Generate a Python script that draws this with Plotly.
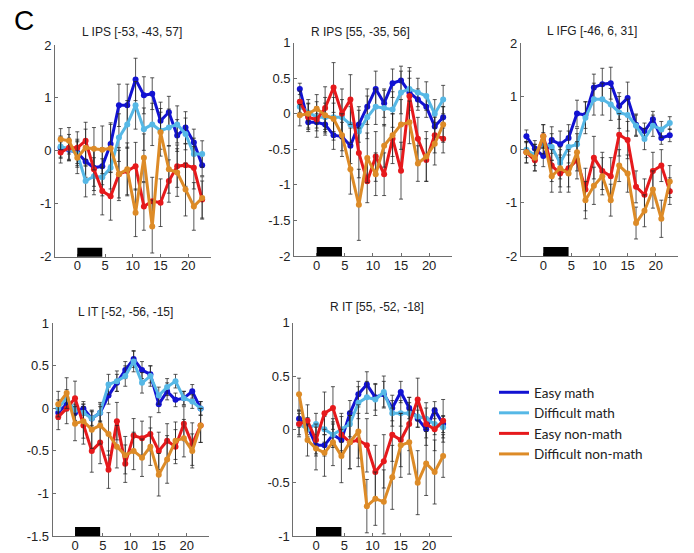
import plotly.graph_objects as go

W, H = 694, 553

# ---------------- data ----------------
time_s = [-3, -1.5, 0, 1.5, 3, 4.5, 6, 7.5, 9, 10.5, 12, 13.5, 15, 16.5, 18, 19.5, 21, 22.5]
stim_block = [0, 4.5]
x_ticks = [0, 5, 10, 15, 20]

condition_names = ["Easy math", "Difficult math", "Easy non-math", "Difficult non-math"]
condition_colors = ["#1212d2", "#56b8e6", "#e6191c", "#dd8b27"]

# L IPS [-53, -43, 57]
lips_easy_math = [0.06, 0.02, -0.03, -0.2, -0.32, -0.29, 0.13, 0.86, 0.86, 1.35, 1.05, 1.08, 0.57, 0.73, 0.29, 0.44, 0.16, -0.27]
lips_diff_math = [0.08, 0.04, -0.06, -0.57, -0.48, -0.5, -0.32, 0.25, 0.5, 0.86, 0.41, 0.5, 0.38, 0.44, 0.5, 0.32, -0.06, -0.06]
lips_easy_non = [-0.03, 0.06, 0.06, 0.19, -0.35, -0.76, -0.86, -0.44, -0.38, -0.29, -1.05, -0.95, -0.98, -0.57, -0.29, -0.27, -0.32, -0.92]
lips_diff_non = [0.22, 0.19, -0.13, 0.06, 0.04, 0.02, 0.05, -0.44, -0.35, -1.17, -0.13, -1.43, 0.35, -0.35, -0.41, -0.73, -1.05, -0.89]
lips_err_easy_math = [0.2, 0.2, 0.25, 0.3, 0.35, 0.35, 0.4, 0.4, 0.4, 0.4, 0.35, 0.3, 0.35, 0.3, 0.3, 0.3, 0.25, 0.2]
lips_err_diff_math = [0.2, 0.2, 0.25, 0.3, 0.35, 0.35, 0.4, 0.45, 0.45, 0.45, 0.4, 0.4, 0.35, 0.35, 0.35, 0.3, 0.3, 0.25]
lips_err_easy_non = [0.2, 0.25, 0.3, 0.35, 0.4, 0.45, 0.45, 0.45, 0.45, 0.45, 0.45, 0.45, 0.45, 0.4, 0.4, 0.4, 0.4, 0.35]
lips_err_diff_non = [0.2, 0.25, 0.3, 0.35, 0.4, 0.45, 0.45, 0.5, 0.5, 0.45, 0.45, 0.5, 0.45, 0.45, 0.45, 0.5, 0.45, 0.4]

# R IPS [55, -35, 56]
rips_easy_math = [0.35, -0.12, -0.12, -0.15, -0.3, -0.32, -0.45, -0.15, 0.1, 0.35, 0.15, 0.43, 0.47, 0.3, 0.2, 0.1, -0.18, -0.05]
rips_diff_math = [0.1, 0.02, -0.05, -0.05, -0.05, -0.05, -0.15, -0.25, -0.05, 0.1, 0.08, 0.06, 0.3, 0.35, 0.3, 0.25, 0.0, 0.2]
rips_easy_non = [0.17, -0.05, -0.08, 0.08, 0.37, 0.0, 0.2, -0.55, -0.95, -0.6, -0.85, -0.35, -0.8, 0.25, -0.35, -0.65, -0.3, -0.35]
rips_diff_non = [-0.02, 0.0, 0.07, -0.02, -0.07, -0.3, -0.78, -1.28, -0.62, -0.85, -0.45, -0.3, -0.15, -0.12, -0.7, -0.6, -0.42, -0.15]
rips_err_easy_math = [0.08, 0.1, 0.12, 0.15, 0.2, 0.2, 0.25, 0.25, 0.25, 0.25, 0.2, 0.2, 0.2, 0.2, 0.15, 0.15, 0.15, 0.15]
rips_err_diff_math = [0.1, 0.12, 0.15, 0.2, 0.2, 0.25, 0.25, 0.3, 0.3, 0.25, 0.25, 0.25, 0.3, 0.3, 0.2, 0.2, 0.2, 0.2]
rips_err_easy_non = [0.15, 0.2, 0.25, 0.3, 0.35, 0.35, 0.35, 0.35, 0.3, 0.35, 0.3, 0.35, 0.4, 0.35, 0.3, 0.3, 0.25, 0.2]
rips_err_diff_non = [0.15, 0.2, 0.2, 0.25, 0.3, 0.3, 0.35, 0.5, 0.35, 0.3, 0.3, 0.3, 0.35, 0.3, 0.25, 0.35, 0.3, 0.25]

# L IFG [-46, 6, 31]
lifg_easy_math = [0.25, 0.02, -0.12, 0.18, 0.1, 0.22, 0.68, 0.65, 1.17, 1.23, 1.25, 0.82, 0.97, 0.47, 0.35, 0.57, 0.22, 0.27]
lifg_diff_math = [0.0, -0.1, 0.12, 0.05, -0.25, 0.05, 0.1, 0.6, 0.95, 0.95, 0.85, 0.7, 0.65, 0.45, 0.2, 0.45, 0.38, 0.5]
lifg_easy_non = [-0.05, -0.2, 0.25, -0.3, -0.45, -0.35, -0.2, -0.75, -0.15, -0.4, -0.5, 0.28, 0.18, -0.7, -0.85, -0.4, -0.3, -0.78]
lifg_diff_non = [-0.05, -0.15, 0.25, -0.5, -0.35, -0.45, -0.05, -0.95, -0.68, -0.5, -0.95, -0.3, -0.45, -1.38, -1.15, -0.75, -1.3, -0.6]
lifg_err_easy_math = [0.12, 0.15, 0.2, 0.25, 0.25, 0.25, 0.25, 0.25, 0.25, 0.3, 0.3, 0.25, 0.3, 0.2, 0.15, 0.15, 0.12, 0.12]
lifg_err_diff_math = [0.15, 0.2, 0.2, 0.25, 0.3, 0.3, 0.3, 0.3, 0.3, 0.3, 0.3, 0.3, 0.3, 0.2, 0.2, 0.2, 0.15, 0.12]
lifg_err_easy_non = [0.2, 0.2, 0.22, 0.3, 0.35, 0.35, 0.35, 0.4, 0.4, 0.35, 0.35, 0.4, 0.35, 0.3, 0.3, 0.35, 0.3, 0.25]
lifg_err_diff_non = [0.2, 0.25, 0.22, 0.3, 0.35, 0.35, 0.35, 0.35, 0.35, 0.35, 0.3, 0.3, 0.35, 0.3, 0.3, 0.35, 0.35, 0.3]

# L IT [-52, -56, -15]
lit_easy_math = [-0.05, 0.05, -0.05, 0.0, -0.12, -0.05, 0.15, 0.3, 0.45, 0.58, 0.45, 0.4, 0.05, 0.2, 0.1, 0.12, 0.2, 0.0]
lit_diff_math = [0.0, 0.12, -0.02, -0.05, -0.12, -0.05, 0.28, 0.32, 0.38, 0.55, 0.3, 0.38, 0.15, 0.25, 0.32, 0.12, 0.08, 0.0]
lit_easy_non = [-0.1, 0.0, 0.12, -0.2, -0.5, -0.4, -0.72, -0.15, -0.65, -0.32, -0.35, -0.3, -0.5, -0.38, -0.45, -0.18, -0.42, -0.2]
lit_diff_non = [0.05, 0.18, -0.18, -0.15, -0.25, -0.2, -0.3, -0.45, -0.55, -0.5, -0.58, -0.45, -0.78, -0.6, -0.38, -0.35, -0.5, -0.2]
lit_err_easy_math = [0.08, 0.08, 0.1, 0.08, 0.08, 0.1, 0.1, 0.1, 0.1, 0.1, 0.1, 0.1, 0.1, 0.1, 0.08, 0.08, 0.08, 0.08]
lit_err_diff_math = [0.1, 0.1, 0.12, 0.1, 0.1, 0.12, 0.12, 0.12, 0.12, 0.12, 0.12, 0.12, 0.1, 0.1, 0.08, 0.08, 0.08, 0.08]
lit_err_easy_non = [0.15, 0.18, 0.2, 0.22, 0.25, 0.25, 0.22, 0.22, 0.22, 0.2, 0.2, 0.2, 0.22, 0.2, 0.2, 0.2, 0.25, 0.2]
lit_err_diff_non = [0.15, 0.18, 0.2, 0.2, 0.22, 0.22, 0.25, 0.25, 0.22, 0.22, 0.22, 0.22, 0.25, 0.28, 0.22, 0.22, 0.2, 0.2]

# R IT [55, -52, -18]
rit_easy_math = [0.1, 0.03, -0.15, -0.15, -0.05, -0.1, 0.15, 0.33, 0.42, 0.3, 0.33, 0.2, 0.35, 0.2, 0.1, 0.0, 0.18, 0.05]
rit_diff_math = [0.05, 0.0, 0.05, 0.0, -0.05, 0.0, 0.05, 0.25, 0.3, 0.28, 0.35, 0.15, 0.15, 0.15, 0.12, 0.1, 0.05, 0.02]
rit_easy_non = [0.05, 0.08, -0.1, 0.15, 0.2, -0.05, -0.12, -0.1, -0.15, -0.4, -0.3, -0.05, -0.1, 0.05, 0.28, 0.05, 0.0, 0.08]
rit_diff_non = [0.33, -0.1, -0.18, -0.22, -0.12, -0.25, -0.12, -0.02, -0.72, -0.65, -0.68, -0.45, -0.15, -0.12, -0.5, -0.32, -0.4, -0.25]
rit_err_easy_math = [0.08, 0.08, 0.08, 0.1, 0.1, 0.1, 0.12, 0.12, 0.12, 0.12, 0.12, 0.12, 0.1, 0.1, 0.08, 0.08, 0.08, 0.08]
rit_err_diff_math = [0.1, 0.1, 0.1, 0.12, 0.12, 0.12, 0.12, 0.15, 0.15, 0.15, 0.15, 0.12, 0.12, 0.1, 0.1, 0.1, 0.1, 0.1]
rit_err_easy_non = [0.12, 0.15, 0.15, 0.2, 0.2, 0.2, 0.25, 0.25, 0.25, 0.25, 0.25, 0.25, 0.25, 0.25, 0.2, 0.2, 0.2, 0.2]
rit_err_diff_non = [0.15, 0.15, 0.2, 0.22, 0.22, 0.25, 0.25, 0.25, 0.25, 0.25, 0.3, 0.3, 0.3, 0.3, 0.3, 0.3, 0.3, 0.2]

panel_titles = ["L IPS [-53, -43, 57]", "R IPS [55, -35, 56]", "L IFG [-46, 6, 31]",
                "L IT [-52, -56, -15]", "R IT [55, -52, -18]"]
yticks_lips = [-2, -1, 0, 1, 2]
yticks_rips = [-2, -1.5, -1, -0.5, 0, 0.5, 1]
yticks_lifg = [-2, -1, 0, 1, 2]
yticks_lit = [-1.5, -1, -0.5, 0, 0.5, 1]
yticks_rit = [-1, -0.5, 0, 0.5, 1]

panels = [
    (panel_titles[0], [lips_easy_math, lips_diff_math, lips_easy_non, lips_diff_non],
     [lips_err_easy_math, lips_err_diff_math, lips_err_easy_non, lips_err_diff_non], yticks_lips),
    (panel_titles[1], [rips_easy_math, rips_diff_math, rips_easy_non, rips_diff_non],
     [rips_err_easy_math, rips_err_diff_math, rips_err_easy_non, rips_err_diff_non], yticks_rips),
    (panel_titles[2], [lifg_easy_math, lifg_diff_math, lifg_easy_non, lifg_diff_non],
     [lifg_err_easy_math, lifg_err_diff_math, lifg_err_easy_non, lifg_err_diff_non], yticks_lifg),
    (panel_titles[3], [lit_easy_math, lit_diff_math, lit_easy_non, lit_diff_non],
     [lit_err_easy_math, lit_err_diff_math, lit_err_easy_non, lit_err_diff_non], yticks_lit),
    (panel_titles[4], [rit_easy_math, rit_diff_math, rit_easy_non, rit_diff_non],
     [rit_err_easy_math, rit_err_diff_math, rit_err_easy_non, rit_err_diff_non], yticks_rit),
]

# ---------------- layout (pixel boxes) ----------------
# (left, right, top, bottom) in pixels
boxes = [
    (55.1, 210.5, 45.0, 256.7),
    (294.2, 451.6, 42.7, 256.0),
    (520.8, 678.2, 43.3, 256.0),
    (52.7, 209.0, 323.3, 536.0),
    (293.4, 451.6, 322.7, 536.0),
]
title_pos = [(131.7, 32.3), (360.8, 32.3), (591.7, 31.0), (125.5, 312.3), (376.7, 307.3)]

def px(x):
    return x / W

def py(y):
    return 1 - y / H

FONT_TICK = "Liberation Sans, Arial, sans-serif"
FONT_TITLE = "Liberation Sans, Arial, sans-serif"

fig = go.Figure()
layout = dict(
    width=W, height=H,
    margin=dict(l=0, r=0, t=0, b=0, autoexpand=False),
    paper_bgcolor="white", plot_bgcolor="white",
    showlegend=True,
    shapes=[], annotations=[],
)

for i, (title, series, errs, yticks) in enumerate(panels):
    k = "" if i == 0 else str(i + 1)
    xa, ya = "x" + k, "y" + k
    l, r, t, b = boxes[i]
    for j in range(4):
        fig.add_trace(go.Scatter(
            x=time_s, y=series[j], xaxis=xa, yaxis=ya,
            mode="lines+markers",
            line=dict(color=condition_colors[j], width=3),
            marker=dict(color=condition_colors[j], size=6),
            error_y=dict(type="data", array=errs[j], visible=True,
                         color="rgba(35,35,35,0.85)", thickness=0.9, width=2),
            showlegend=False, name=condition_names[j],
        ))
    axcommon = dict(showgrid=False, zeroline=False, showline=True, linecolor="#6e6e6e",
                    linewidth=1, ticks="inside", ticklen=3, tickcolor="#6e6e6e",
                    automargin=False,
                    tickfont=dict(family=FONT_TICK, size=13, color="#222"))
    layout["xaxis" + k] = dict(axcommon, domain=[px(l), px(r)], range=[-4, 24],
                               anchor=ya, tickvals=x_ticks, ticklabelstandoff=-3,
                               ticktext=[str(v) for v in x_ticks])
    layout["yaxis" + k] = dict(axcommon, domain=[py(b), py(t)],
                               range=[yticks[0], yticks[-1]], anchor=xa,
                               tickvals=yticks, ticktext=[("%g" % v) for v in yticks])
    # stimulus block marker
    layout["shapes"].append(dict(type="rect", xref=xa, yref=ya + " domain",
                                 x0=stim_block[0], x1=stim_block[1],
                                 y0=0.0, y1=9.0 / (b - t),
                                 fillcolor="black", line=dict(width=0)))
    tx, ty = title_pos[i]
    layout["annotations"].append(dict(text=title, xref="paper", yref="paper",
                                      x=px(tx), y=py(ty), xanchor="center", yanchor="middle",
                                      showarrow=False,
                                      font=dict(family=FONT_TITLE, size=12, color="#222")))

# panel letter
layout["annotations"].append(dict(text="C", xref="paper", yref="paper",
                                  x=px(12), y=py(38), xanchor="left", yanchor="bottom",
                                  showarrow=False,
                                  font=dict(family=FONT_TITLE, size=28, color="black")))

# legend entries
for j in range(4):
    fig.add_trace(go.Scatter(x=[None], y=[None], mode="lines",
                             line=dict(color=condition_colors[j], width=3),
                             name=condition_names[j], showlegend=True))

layout["legend"] = dict(x=px(494), y=py(377), xanchor="left", yanchor="top",
                        bgcolor="rgba(0,0,0,0)", borderwidth=0,
                        font=dict(family="Lato, Open Sans, sans-serif", size=13.5, color="#222"),
                        tracegroupgap=0, itemwidth=30)

fig.update_layout(**layout)
fig.write_html("out.html", config={"displayModeBar": False},
               post_script="document.body.style.margin='0';document.body.style.overflow='hidden';")
